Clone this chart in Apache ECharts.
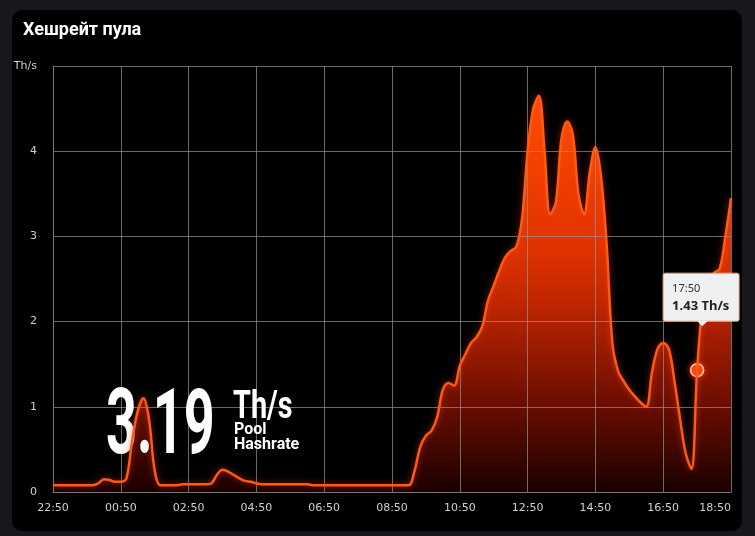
<!DOCTYPE html>
<html><head><meta charset="utf-8">
<script src="https://cdn.jsdelivr.net/npm/echarts/dist/echarts.min.js"></script>
<style>
html,body{margin:0;padding:0;background:#17181c;width:755px;height:536px;overflow:hidden}
#card{position:absolute;left:12px;top:10px;width:730px;height:521px;background:#000;border-radius:10px}
#chart{position:absolute;left:0;top:0;width:755px;height:536px}
</style></head><body><div id="card"></div><div id="chart"></div>
<script>
const titleText = 'Хешрейт пула';
const unit = 'Th/s';
const bigValue = '3.19';
const bigUnit = 'Th/s';
const bigCaption = ['Pool', 'Hashrate'];
const tipIndex = 114;

// categories: every 10 minutes from 22:50 to 18:50
const times = [];
for (let i = 0; i <= 120; i++) {
  const m = (22 * 60 + 50 + i * 10) % 1440;
  times.push(String(Math.floor(m / 60)).padStart(2, '0') + ':' + String(m % 60).padStart(2, '0'));
}

const values = [
  0.08, 0.08, 0.08, 0.08, 0.08, 0.08, 0.08, 0.08, 0.10, 0.15,
  0.14, 0.12, 0.12, 0.16, 0.60, 0.95, 1.10, 0.85, 0.25, 0.08,
  0.08, 0.08, 0.08, 0.09, 0.09, 0.09, 0.09, 0.09, 0.10, 0.20,
  0.26, 0.24, 0.20, 0.16, 0.13, 0.12, 0.10, 0.09, 0.09, 0.09,
  0.09, 0.09, 0.09, 0.09, 0.09, 0.09, 0.08, 0.08, 0.08, 0.08,
  0.08, 0.08, 0.08, 0.08, 0.08, 0.08, 0.08, 0.08, 0.08, 0.08,
  0.08, 0.08, 0.08, 0.08, 0.25, 0.53, 0.66, 0.72, 0.88, 1.20,
  1.28, 1.25, 1.48, 1.62, 1.75, 1.82, 1.95, 2.25, 2.42, 2.60,
  2.75, 2.83, 2.88, 3.20, 4.00, 4.50, 4.65, 4.00, 3.26, 3.40,
  4.15, 4.35, 4.20, 3.50, 3.26, 3.75, 4.05, 3.70, 2.90, 1.75,
  1.42, 1.30, 1.20, 1.12, 1.05, 1.00, 1.40, 1.68, 1.75, 1.68,
  1.30, 0.85, 0.45, 0.27, 1.43, 2.20, 2.45, 2.57, 2.62, 3.00,
  3.45
];

const chart = echarts.init(document.getElementById('chart'), null, {renderer: 'canvas'});
const option = {
  backgroundColor: 'transparent',
  animation: false,
  title: {
    text: titleText, left: 18, top: 16,
    textStyle: {color: '#ffffff', fontSize: 18, fontWeight: 'bold', fontFamily: 'Roboto'}
  },
  grid: {left: 53, right: 24, top: 66, bottom: 44},
  xAxis: {
    type: 'category', data: times, boundaryGap: false, z: 2,
    axisLine: {lineStyle: {color: '#7a7a7a'}},
    axisTick: {show: false},
    axisLabel: {interval: 11, color: '#cfcfcf', fontSize: 11, fontFamily: 'DejaVu Sans', margin: 11, alignMaxLabel: 'right'},
    splitLine: {show: true, interval: 11, lineStyle: {color: 'rgba(150,150,150,0.7)', width: 1}}
  },
  yAxis: {
    type: 'value', min: 0, max: 5, interval: 1, z: 2,
    axisLine: {show: true, lineStyle: {color: '#7a7a7a'}},
    axisTick: {show: false},
    axisLabel: {color: '#cfcfcf', fontSize: 11, fontFamily: 'DejaVu Sans', margin: 16,
      formatter: v => v === 5 ? unit : String(v)},
    splitLine: {lineStyle: {color: 'rgba(150,150,150,0.7)', width: 1}}
  },
  series: [{
    type: 'line', data: values, smooth: 0.35, symbol: 'none', z: 1,
    lineStyle: {width: 0},
    areaStyle: {
      opacity: 1,
      color: new echarts.graphic.LinearGradient(0, 0, 0, 1, [
        {offset: 0, color: '#ff4d00'},
        {offset: 0.39, color: '#e03200'},
        {offset: 0.52, color: '#c02600'},
        {offset: 0.77, color: '#6e0e00'},
        {offset: 1, color: '#1a0000'}
      ])
    }
  }, {
    type: 'line', data: values, smooth: 0.35, symbol: 'none', z: 5,
    lineStyle: {color: '#ff5a14', width: 2.5, shadowColor: 'rgba(255,70,0,0.6)', shadowBlur: 6},
    markPoint: {
      silent: true,
      label: {show: false},
      data: [{
        coord: [times[tipIndex], values[tipIndex]], symbol: 'circle', symbolSize: 13,
        itemStyle: {color: '#ff4a0a', borderColor: '#ffd8c0', borderWidth: 1.5, shadowColor: 'rgba(255,60,0,0.9)', shadowBlur: 6}
      }]
    }
  }]
};
chart.setOption(option);

const p = chart.convertToPixel({seriesIndex: 1}, [tipIndex, values[tipIndex]]);
chart.setOption({
  graphic: [
    {type: 'text', x: 106, y: 385, scaleX: 0.60, z: 3,
      style: {text: bigValue, fill: '#ffffff', font: 'bold 90px Roboto', textVerticalAlign: 'top'}},
    {type: 'text', x: 233, y: 389, scaleX: 0.76, z: 3,
      style: {text: bigUnit, fill: '#ffffff', font: 'bold 38px Roboto', textVerticalAlign: 'top'}},
    {type: 'text', x: 234, y: 422, z: 3,
      style: {text: bigCaption[0], fill: '#ffffff', font: 'bold 16px Roboto', textVerticalAlign: 'top'}},
    {type: 'text', x: 234, y: 437, z: 3,
      style: {text: bigCaption[1], fill: '#ffffff', font: 'bold 16px Roboto', textVerticalAlign: 'top'}},
    {type: 'group', z: 100, children: [
      {type: 'rect', shape: {x: p[0] - 34, y: p[1] - 97, width: 76, height: 48, r: 2},
        style: {fill: '#eef0f1', stroke: '#e7a46e', lineWidth: 1}, z: 100},
      {type: 'polygon', shape: {points: [[p[0] + 0, p[1] - 49.5], [p[0] + 11, p[1] - 49.5], [p[0] + 5, p[1] - 44]]},
        style: {fill: '#eef0f1'}, z: 101},
      {type: 'text', x: p[0] - 25, y: p[1] - 81, z: 102,
        style: {text: times[tipIndex], fill: '#333333', font: '11px "Noto Sans"', textVerticalAlign: 'middle'}},
      {type: 'text', x: p[0] - 25, y: p[1] - 64, z: 102,
        style: {text: values[tipIndex].toFixed(2) + ' ' + unit, fill: '#222222', font: 'bold 13px "Noto Sans"', textVerticalAlign: 'middle'}}
    ]}
  ]
});
</script>
</body></html>
